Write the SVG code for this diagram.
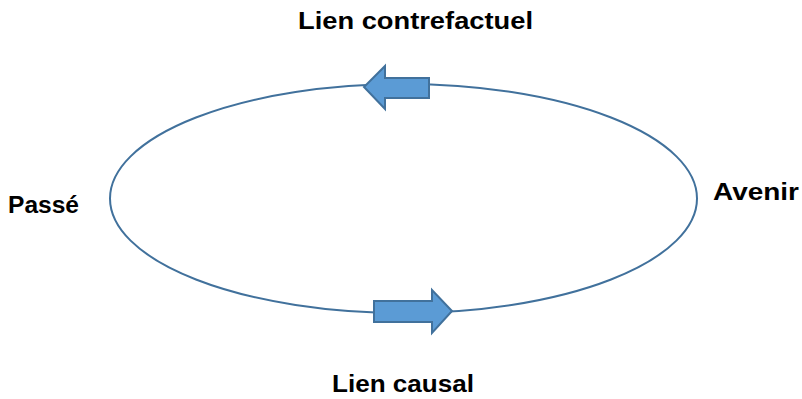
<svg xmlns="http://www.w3.org/2000/svg" width="802" height="399" viewBox="0 0 802 399">
<style>
.lbl{font-family:"Liberation Sans",Arial,sans-serif;font-weight:bold;font-size:23px;fill:#000}
.arr{fill:#5b9bd5;stroke:#41719c;stroke-width:2;stroke-linejoin:miter}
</style>
<rect width="802" height="399" fill="#fff"/>
<g id="connectors">
<ellipse id="cycle" cx="403.5" cy="198.5" rx="293.5" ry="114.5" fill="none" stroke="#41719c" stroke-width="2"/>
</g>
<g id="arrow-top">
<polygon class="arr" points="429,78 385,78 385,66 364,87 385,109 385,98 429,98"/>
</g>
<g id="arrow-bottom">
<polygon class="arr" points="374,301 432,301 432,290 452,311 432,333 432,322 374,322"/>
</g>
<g id="node-lien-contrefactuel"><text class="lbl" x="298" y="29" textLength="235" lengthAdjust="spacingAndGlyphs">Lien contrefactuel</text></g>
<g id="node-passe"><text class="lbl" x="8" y="213" textLength="71" lengthAdjust="spacingAndGlyphs">Passé</text></g>
<g id="node-avenir"><text class="lbl" x="713" y="200" textLength="86" lengthAdjust="spacingAndGlyphs">Avenir</text></g>
<g id="node-lien-causal"><text class="lbl" x="332" y="392" textLength="142" lengthAdjust="spacingAndGlyphs">Lien causal</text></g>
</svg>
